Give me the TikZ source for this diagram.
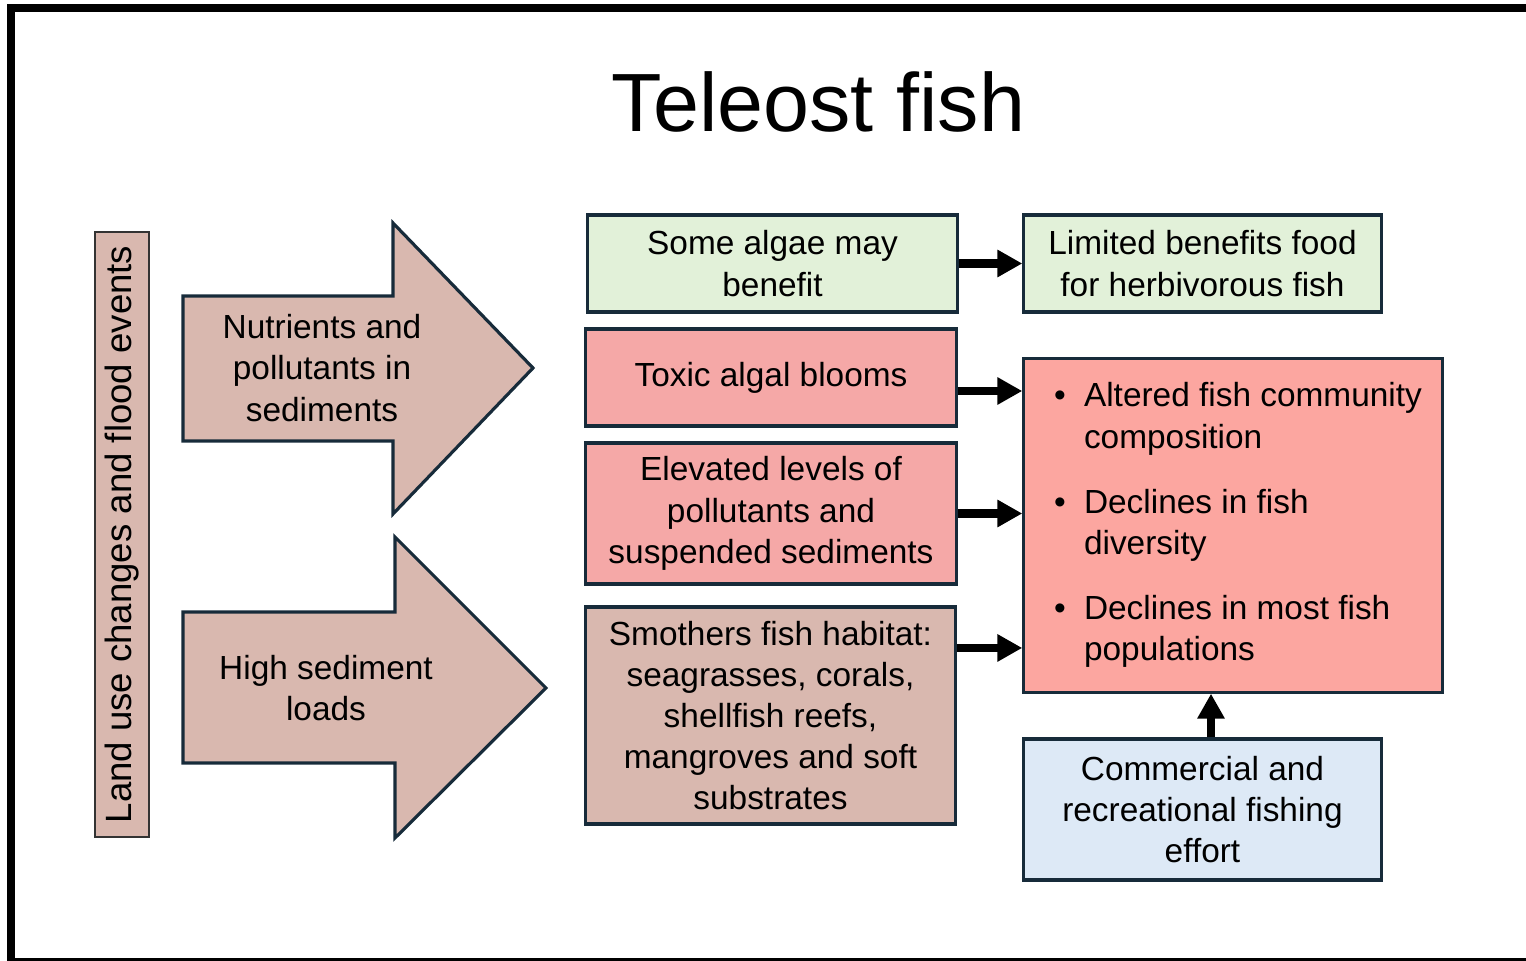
\documentclass[tikz,border=0pt]{standalone}
\usepackage{fontspec}
\setmainfont{Liberation Sans}
\usetikzlibrary{arrows.meta,calc}
\definecolor{edgeNavy}{HTML}{172B3A}
\definecolor{algaeGreen}{HTML}{E2F1D9}
\definecolor{toxicRed}{HTML}{F5A8A7}
\definecolor{impactRed}{HTML}{FCA6A0}
\definecolor{sedBrown}{HTML}{D9B8AF}
\definecolor{fishBlue}{HTML}{DDE9F6}

\begin{document}
\begin{tikzpicture}[x=0.01cm,y=-0.01cm,
  box/.style={draw=edgeNavy,line width=0.9pt,align=center,inner sep=0pt,font=\fontsize{9.5}{11.7}\selectfont},
  blockarrow/.style={draw=edgeNavy,line width=0.9pt,fill=sedBrown},
  link/.style={-{Triangle[length=2.5mm,width=2.6mm]},line width=2.3pt,black}]
  \useasboundingbox (0,0) rectangle (1526,961);
  \draw[line width=0.08cm] (11,8) rectangle (1560,962);

  \node[anchor=base,font=\fontsize{23.5}{27}\selectfont] (title) at (818.5,132) {Teleost fish};

  % drivers
  \node[draw=black!80,line width=0.5pt,fill=sedBrown,rotate=90,minimum width=6.05cm,minimum height=0.54cm,inner sep=0pt,font=\fontsize{10.4}{12}\selectfont] (driver) at (122,534.5) {\raisebox{-0.6mm}{Land use changes and flood events}};
  \draw[blockarrow] (183,296) -- (393,296) -- (393,223) -- (533,368) -- (393,514) -- (393,441) -- (183,441) -- cycle;
  \node[align=center,font=\fontsize{9.5}{11.7}\selectfont] (nutr) at (322,368) {Nutrients and\\pollutants in\\sediments};
  \draw[blockarrow] (183,612) -- (395,612) -- (395,537) -- (546,688) -- (395,838) -- (395,763) -- (183,763) -- cycle;
  \node[align=center,font=\fontsize{9.5}{11.7}\selectfont] (sedi) at (326,688) {High sediment\\loads};

  % pressures
  \node[box,fill=algaeGreen,minimum width=3.69cm,minimum height=0.97cm] (algae) at (772.5,263.5) {Some algae may\\benefit};
  \node[box,fill=toxicRed,minimum width=3.70cm,minimum height=0.97cm] (toxic) at (771,377.5) {Toxic algal blooms};
  \node[box,fill=toxicRed,minimum width=3.70cm,minimum height=1.41cm] (elev) at (771,513.5) {Elevated levels of\\pollutants and\\suspended sediments};
  \node[box,fill=sedBrown,minimum width=3.69cm,minimum height=2.17cm] (smother) at (770.5,715.5) {Smothers fish habitat:\\seagrasses, corals,\\shellfish reefs,\\mangroves and soft\\substrates};

  % outcomes
  \node[box,fill=algaeGreen,minimum width=3.57cm,minimum height=0.97cm] (food) at (1202.5,263.5) {Limited benefits food\\for herbivorous fish};
  \node[box,fill=impactRed,minimum width=4.18cm,minimum height=3.33cm] (effects) at (1233,525.5) {%
    \begin{tabular}{@{\hspace{1mm}}l@{\hspace{5.2pt}}l@{}}
      \textbullet & Altered fish community\\
                  & composition\\[6.8pt]
      \textbullet & Declines in fish\\
                  & diversity\\[6.8pt]
      \textbullet & Declines in most fish\\
                  & populations
    \end{tabular}};
  \node[box,fill=fishBlue,minimum width=3.57cm,minimum height=1.41cm] (fishing) at (1202.5,809.5) {Commercial and\\recreational fishing\\effort};

  \draw[link] (algae) -- (food);
  \coordinate (t1) at ([yshift=-1.35mm]toxic.east);
  \draw[link] (t1) -- (t1 -| effects.west);
  \draw[link] (elev.east) -- (elev.east -| effects.west);
  \coordinate (s1) at ([yshift=6.75mm]smother.east);
  \draw[link] (s1) -- (s1 -| effects.west);
  \coordinate (f1) at ([xshift=0.85mm]fishing.north);
  \draw[link] (f1) -- (f1 |- effects.south);
\end{tikzpicture}
\end{document}
